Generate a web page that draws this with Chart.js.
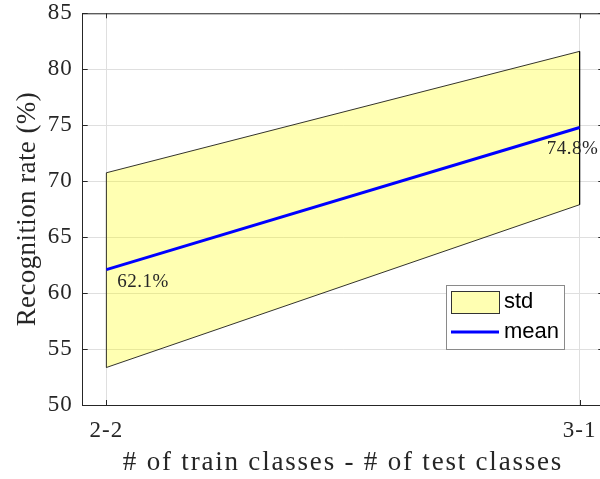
<!DOCTYPE html>
<html><head><meta charset="utf-8">
<script src="https://cdn.jsdelivr.net/npm/chart.js@4/dist/chart.umd.min.js"></script>
<style>html,body{margin:0;padding:0;overflow:hidden;background:#fff}#wrap{width:604px;height:479px;position:relative}canvas{display:block}</style>
</head><body><div id="wrap"><canvas id="c" width="604" height="479" style="width:604px;height:479px"></canvas></div>
<script>
const categories = ['2-2', '3-1'];
const meanValues = [62.1, 74.8];
const stdUpper = [70.75, 81.6];
const stdLower = [53.35, 67.9];
const yTicks = [50, 55, 60, 65, 70, 75, 80, 85];
const meanLabels = ['62.1%', '74.8%'];

const xs = categories.map((c, i) => i + 1);
const bandPoly = [
  {x: xs[0], y: stdLower[0]}, {x: xs[0], y: stdUpper[0]},
  {x: xs[1], y: stdUpper[1]}, {x: xs[1], y: stdLower[1]},
  {x: xs[0], y: stdLower[0]}
];
const meanPts = xs.map((x, i) => ({x: x, y: meanValues[i]}));

const SERIF = '"Liberation Serif", "DejaVu Serif", serif';
const SANS = '"Liberation Sans", Arial, sans-serif';
const AX = '#262626';

function spaced(s, titleSp, labelSp) {
  if (s._sp) return;
  s._sp = true;
  const t = s.drawTitle.bind(s), l = s.drawLabels.bind(s);
  s.drawTitle = function () { const c = s.ctx; const o = c.letterSpacing; c.letterSpacing = titleSp; t(); c.letterSpacing = o || '0px'; };
  s.drawLabels = function (a) { const c = s.ctx; const o = c.letterSpacing; c.letterSpacing = labelSp; l(a); c.letterSpacing = o || '0px'; };
}

const deco = {
  id: 'deco',
  afterDatasetsDraw(chart) {
    const ctx = chart.ctx, a = chart.chartArea;
    const xS = chart.scales.x, yS = chart.scales.y;
    ctx.save();
    ctx.strokeStyle = AX; ctx.lineWidth = 1;
    ctx.beginPath();
    ctx.moveTo(a.left, a.top + 0.5); ctx.lineTo(a.right, a.top + 0.5);
    ctx.moveTo(a.right - 0.5, a.top); ctx.lineTo(a.right - 0.5, a.bottom);
    ctx.stroke();
    ctx.beginPath();
    yTicks.forEach(v => {
      const py = Math.round(yS.getPixelForValue(v)) + 0.5;
      ctx.moveTo(a.left, py); ctx.lineTo(a.left + 5, py);
      ctx.moveTo(a.right, py); ctx.lineTo(a.right - 5, py);
    });
    xs.forEach(v => {
      const px = Math.round(xS.getPixelForValue(v)) + 0.5;
      ctx.moveTo(px, a.bottom); ctx.lineTo(px, a.bottom - 5);
      ctx.moveTo(px, a.top); ctx.lineTo(px, a.top + 5);
    });
    ctx.stroke();
    ctx.fillStyle = AX;
    ctx.font = '19px ' + SERIF;
    ctx.letterSpacing = '0.5px';
    ctx.textBaseline = 'alphabetic';
    ctx.textAlign = 'left';
    const offs = [[11, 17], [-33, 27]];
    meanPts.forEach((p, i) => {
      const px = xS.getPixelForValue(p.x), py = yS.getPixelForValue(p.y);
      ctx.fillText(meanLabels[i], px + offs[i][0], py + offs[i][1]);
    });
    ctx.letterSpacing = '0px';
    const lx = 446.5, ly = 285.5, lw = 118, lh = 64;
    ctx.fillStyle = '#fff'; ctx.fillRect(lx, ly, lw, lh);
    ctx.strokeStyle = '#8a8a8a'; ctx.lineWidth = 1; ctx.strokeRect(lx, ly, lw, lh);
    ctx.fillStyle = 'rgba(255,255,0,0.3)'; ctx.fillRect(451.5, 291.5, 48, 22);
    ctx.strokeStyle = '#333'; ctx.strokeRect(451.5, 291.5, 48, 22);
    ctx.strokeStyle = '#0000ff'; ctx.lineWidth = 3;
    ctx.beginPath(); ctx.moveTo(451, 332); ctx.lineTo(499, 332); ctx.stroke();
    ctx.fillStyle = '#000'; ctx.font = '22px ' + SANS; ctx.textBaseline = 'middle';
    ctx.fillText(chart.data.datasets[0].label, 504, 302);
    ctx.fillText(chart.data.datasets[1].label, 504, 332);
    ctx.restore();
  }
};

new Chart(document.getElementById('c'), {
  type: 'line',
  data: {
    datasets: [
      {label: 'std', data: bandPoly, fill: 'shape', backgroundColor: 'rgba(255,255,0,0.3)',
       borderColor: '#000', borderWidth: 0.8, pointRadius: 0, tension: 0, order: 2},
      {label: 'mean', data: meanPts, fill: false, borderColor: '#0000ff', borderWidth: 3,
       pointRadius: 0, tension: 0, order: 1}
    ]
  },
  options: {
    responsive: false, animation: false,
    layout: {padding: {top: 13.3, right: 0.7, left: 0, bottom: 0}},
    plugins: {legend: {display: false}, tooltip: {enabled: false}},
    scales: {
      x: {
        type: 'linear', min: 0.95, max: 2.05,
        afterBuildTicks: s => { s.ticks = xs.map(v => ({value: v})); },
        afterFit: s => { s.height = 74; s.paddingLeft = 0; s.paddingRight = 0; spaced(s, '1.8px', '1px'); },
        grid: {color: '#dfdfdf', drawTicks: false},
        border: {color: AX},
        ticks: {padding: 12, color: AX, font: {family: SERIF, size: 23},
                callback: v => categories[v - 1] || ''},
        title: {display: true, text: '# of train classes - # of test classes', color: AX,
                font: {family: SERIF, size: 27}, padding: {top: 0, bottom: 0}}
      },
      y: {
        min: 50, max: 85,
        afterBuildTicks: s => { s.ticks = yTicks.map(v => ({value: v})); },
        afterFit: s => { s.width = 82.7; s.paddingTop = 0; s.paddingBottom = 0; spaced(s, '0.4px', '1px'); },
        grid: {color: '#dfdfdf', drawTicks: false},
        border: {color: AX},
        ticks: {padding: 10, color: AX, font: {family: SERIF, size: 23}},
        title: {display: true, text: 'Recognition rate (%)', color: AX,
                font: {family: SERIF, size: 27}, padding: {top: 12, bottom: 0}}
      }
    }
  },
  plugins: [deco]
});
</script></body></html>
